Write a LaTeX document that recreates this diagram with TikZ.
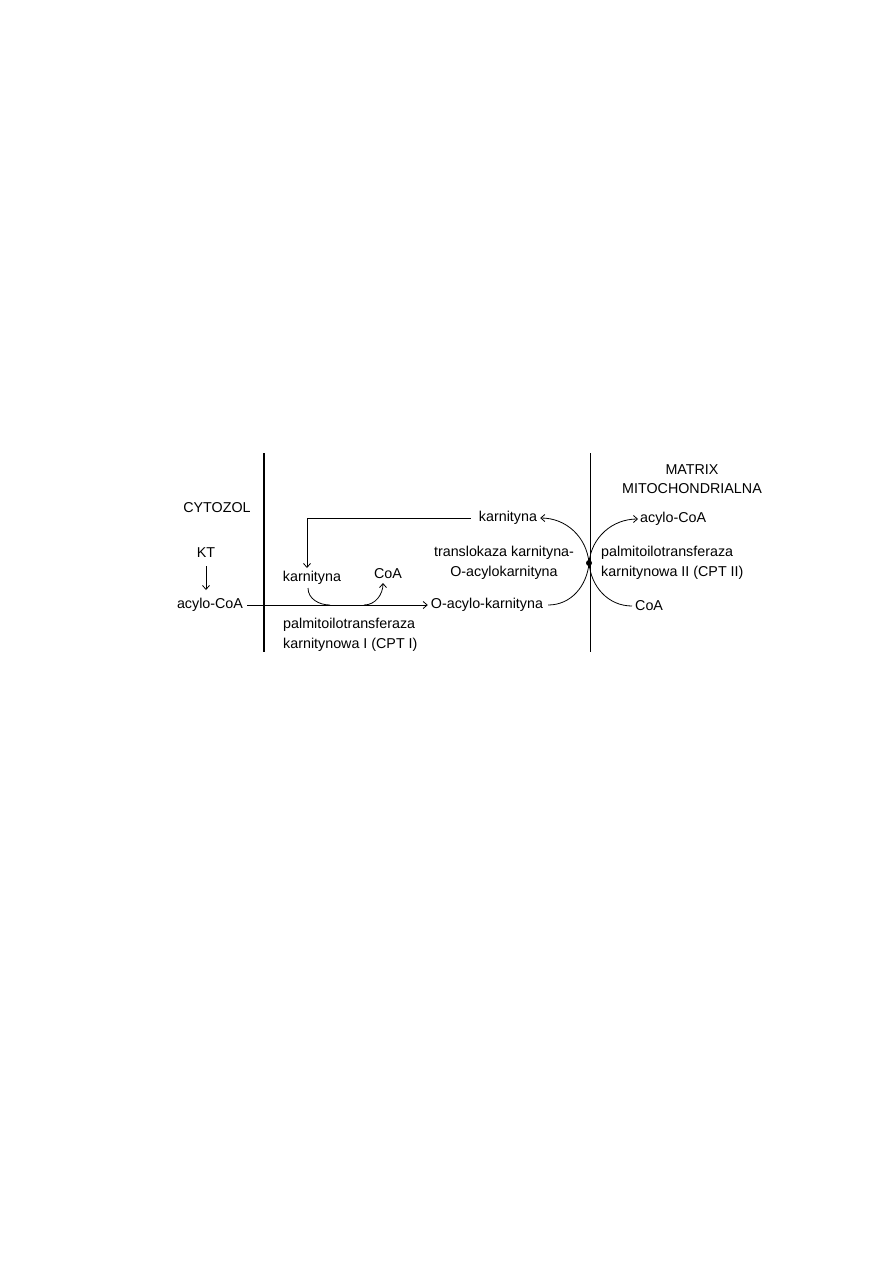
\documentclass[tikz,border=0pt]{standalone}
\usepackage{fontspec}
\setmainfont{Liberation Sans}
\usetikzlibrary{arrows.meta}
\begin{document}
\begin{tikzpicture}[x=1pt,y=-1pt,
  lbl/.style={inner sep=0pt,font=\fontsize{14.3}{19.5}\selectfont},
  conn/.style={line width=0.8pt},
  arr/.style={conn,-{Straight Barb[length=4pt,width=7pt]}},
  membrane/.style={line width=2.4pt},
  membrane2/.style={line width=1pt}]
\useasboundingbox (0,0) rectangle (893,1263);
% membranes
\coordinate (m1t) at (264,453); \coordinate (m1b) at (264,652);
\coordinate (m2t) at (590,453); \coordinate (m2b) at (590,652);
\draw[membrane] (m1t) -- (m1b);
\draw[membrane2] (m2t) -- (m2b);
% labels
\node[lbl] (cyt) at (217,508) {CYTOZOL};
\node[lbl] (kt) at (206,553) {KT};
\node[lbl] (acyloL) at (210,605) {acylo-CoA};
\node[lbl] (karnL) at (312,578) {karnityna};
\node[lbl] (coaL) at (388,574) {CoA};
\node[lbl] (oacyl) at (487,605) {O-acylo-karnityna};
\node[lbl] (karnT) at (508,518) {karnityna};
\node[lbl,align=center] (transl) at (504,563) {translokaza karnityna-\\O-acylokarnityna};
\node[lbl,align=center] (matrix) at (692,479) {MATRIX\\MITOCHONDRIALNA};
\node[lbl,anchor=west] (acyloR) at (640,519) {acylo-CoA};
\node[lbl,anchor=west,align=left] (cpt2) at (601,563) {palmitoilotransferaza\\karnitynowa II (CPT II)};
\node[lbl,anchor=west] (coaR) at (635,606) {CoA};
\node[lbl,anchor=west,align=left] (cpt1) at (283,635) {palmitoilotransferaza\\karnitynowa I (CPT I)};
% junction
\node[circle,fill,inner sep=0pt,minimum size=6pt] (j) at (589,563) {};
% helper coordinates
\coordinate (kts) at (206,566);
\coordinate (acn) at (206,590);
\coordinate (kd) at (307,568);
\coordinate (c0) at (308,588);
\coordinate (c1) at (330,605);
\coordinate (c2) at (364,605);
\coordinate (c3) at (383,583);
% connectors
\draw[arr] (kts) -- (acn);
\draw[arr] ([xshift=4pt]acyloL.east) -- ([xshift=-3pt]oacyl.west);
\draw[arr] ([xshift=-8pt]karnT.west) -| (kd);
\draw[conn] (c0) to[out=-90,in=180] (c1);
\draw[arr] (c2) to[out=0,in=-90] (c3);
\draw[conn] ([xshift=5pt]oacyl.east) to[out=0,in=-95] (j.center);
\draw[arr] (j.center) to[out=95,in=0] ([xshift=3pt]karnT.east);
\draw[arr] (j.center) to[out=85,in=180] ([xshift=-2pt]acyloR.west);
\draw[conn] (j.center) to[out=-85,in=180] ([xshift=-3pt]coaR.west);
\end{tikzpicture}
\end{document}
